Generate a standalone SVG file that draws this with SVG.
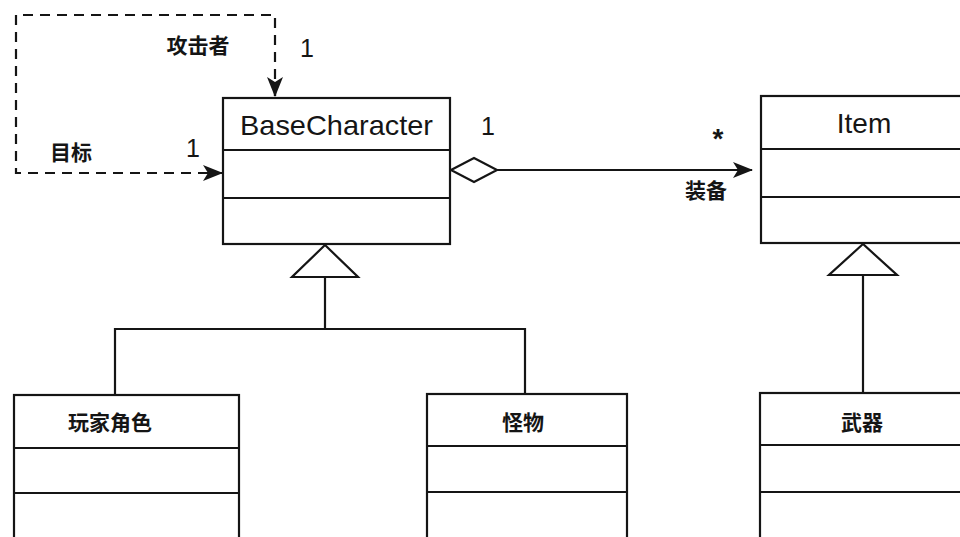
<svg xmlns="http://www.w3.org/2000/svg" width="960" height="537" viewBox="0 0 960 537">
  <defs>
    <style>
      .box { fill: #ffffff; stroke: #151515; stroke-width: 2.2; }
      .div { stroke: #151515; stroke-width: 2.2; fill: none; }
      .edge { stroke: #151515; stroke-width: 2.2; fill: none; }
      .dash { stroke-dasharray: 10 7; }
      .name { font-family: "Liberation Sans", Arial, sans-serif; font-size: 28px; fill: #151515; text-anchor: middle; }
      .cn { font-family: "Noto Sans CJK SC", "Noto Sans", sans-serif; font-size: 21px; font-weight: bold; fill: #151515; text-anchor: middle; }
      .mult { font-family: "Liberation Sans", Arial, sans-serif; font-size: 25px; fill: #151515; text-anchor: middle; }
      .star { font-family: "Liberation Sans", Arial, sans-serif; font-size: 28px; font-weight: bold; fill: #151515; text-anchor: middle; }
      .hollow { fill: #ffffff; stroke: #151515; stroke-width: 2.2; stroke-linejoin: miter; }
    </style>
    <marker id="arrow" viewBox="0 0 20 16" refX="19" refY="8" markerWidth="20" markerHeight="16" markerUnits="userSpaceOnUse" orient="auto">
      <path d="M0,0 L20,8 L0,16 L5,8 Z" fill="#151515"/>
    </marker>
  </defs>

  <rect width="960" height="537" fill="#ffffff"/>

  <!-- connectors -->
  <g id="connectors">
    <!-- self association: attacker / target -->
    <path class="edge dash" d="M275,96 L275,15 L16,15 L16,173 L222,173" marker-end="url(#arrow)"/>
    <path class="edge" d="M275,84 L275,96" marker-end="url(#arrow)"/>
    <!-- aggregation: equipment -->
    <path class="edge" d="M497,170 L752,170" marker-end="url(#arrow)"/>
    <polygon class="hollow" points="451,170 474,158 497,170 474,182"/>
    <!-- generalization: characters -->
    <path class="edge" d="M325,277 L325,329 M115,396 L115,329 L525,329 L525,394"/>
    <polygon class="hollow" points="325,245 292,277 358,277"/>
    <!-- generalization: weapon -->
    <path class="edge" d="M863,275 L863,393"/>
    <polygon class="hollow" points="863,244 829,275 897,275"/>

    <text class="cn" x="198" y="53">攻击者</text>
    <text class="mult" x="307" y="57">1</text>
    <text class="cn" x="71" y="160">目标</text>
    <text class="mult" x="193" y="157">1</text>
    <text class="mult" x="488" y="135">1</text>
    <text class="star" x="718" y="148">*</text>
    <text class="cn" x="706" y="198">装备</text>
  </g>

  <g id="BaseCharacter">
    <rect class="box" x="223" y="98" width="227" height="146"/>
    <path class="div" d="M223,150 H450 M223,198 H450"/>
    <text class="name" x="336.5" y="135" textLength="193" lengthAdjust="spacingAndGlyphs">BaseCharacter</text>
  </g>

  <g id="Item">
    <rect class="box" x="761" y="96" width="220" height="147"/>
    <path class="div" d="M761,149 H981 M761,197 H981"/>
    <text class="name" x="864" y="133">Item</text>
  </g>

  <g id="Player">
    <rect class="box" x="14" y="395" width="225" height="160"/>
    <path class="div" d="M14,448 H239 M14,493 H239"/>
    <text class="cn" x="110" y="430">玩家角色</text>
  </g>

  <g id="Monster">
    <rect class="box" x="427" y="394" width="200" height="160"/>
    <path class="div" d="M427,446 H627 M427,492 H627"/>
    <text class="cn" x="523" y="430">怪物</text>
  </g>

  <g id="Weapon">
    <rect class="box" x="760" y="393" width="221" height="160"/>
    <path class="div" d="M760,445 H981 M760,492 H981"/>
    <text class="cn" x="862" y="430">武器</text>
  </g>
</svg>
